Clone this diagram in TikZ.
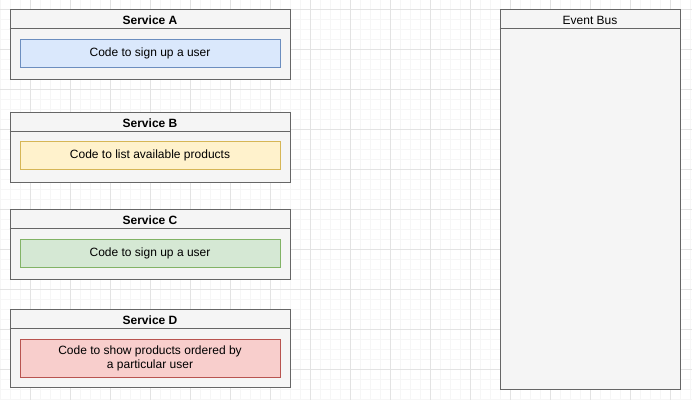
\documentclass[tikz,border=0pt]{standalone}
\usepackage{fontspec}
\setmainfont{Liberation Sans}
\usepackage{xcolor}
\usetikzlibrary{positioning}
\usetikzlibrary{calc}

\definecolor{lanegray}{HTML}{666666}
\definecolor{lanefill}{HTML}{F5F5F5}
\definecolor{gridminor}{HTML}{F6F6F6}
\definecolor{gridmajor}{HTML}{E3E3E3}
\definecolor{bluefill}{HTML}{DAE8FC}
\definecolor{bluedraw}{HTML}{6C8EBF}
\definecolor{yellowfill}{HTML}{FFF2CC}
\definecolor{yellowdraw}{HTML}{D6B656}
\definecolor{greenfill}{HTML}{D5E8D4}
\definecolor{greendraw}{HTML}{82B366}
\definecolor{redfill}{HTML}{F8CECC}
\definecolor{reddraw}{HTML}{B85450}

\tikzset{
  lane/.style={draw=lanegray, fill=lanefill, line width=0.75pt, inner sep=0pt, minimum width=210pt, minimum height=52.5pt},
  lanetitle/.style={font=\fontsize{9}{10.5}\selectfont\bfseries, inner sep=0pt},
  codebox/.style={line width=0.75pt, inner sep=0pt, minimum width=195pt, minimum height=21pt, align=center, font=\fontsize{9}{10.5}\selectfont}
}

\begin{document}
\begin{tikzpicture}[x=0.75pt,y=-0.75pt]
\useasboundingbox (0,0) rectangle (692,400);

% grid
\foreach \gx in {0,10,...,690} \draw[gridminor, line width=0.75pt] (\gx,0) -- (\gx,400);
\foreach \gy in {-1,9,...,399} \draw[gridminor, line width=0.75pt] (0,\gy) -- (692,\gy);
\foreach \gx in {30,70,...,690} \draw[gridmajor, line width=0.75pt] (\gx,0) -- (\gx,400);
\foreach \gy in {9,49,...,399} \draw[gridmajor, line width=0.75pt] (0,\gy) -- (692,\gy);

% Service A
\node[lane] (laneA) at (150,44) {};
\draw[lanegray, line width=0.75pt] ([yshift=-15pt]laneA.north west) -- ([yshift=-15pt]laneA.north east);
\node[lanetitle] (titleA) at (150,20) {Service A};
\node[codebox, draw=bluedraw, fill=bluefill] (codeA) at (150,53) {Code to sign up a user};

% Service B
\node[lane] (laneB) at (150,147) {};
\draw[lanegray, line width=0.75pt] ([yshift=-15pt]laneB.north west) -- ([yshift=-15pt]laneB.north east);
\node[lanetitle] (titleB) at (150,123) {Service B};
\node[codebox, draw=yellowdraw, fill=yellowfill] (codeB) at (150,155.5) {Code to list available products};

% Service C
\node[lane] (laneC) at (150,244) {};
\draw[lanegray, line width=0.75pt] ([yshift=-15pt]laneC.north west) -- ([yshift=-15pt]laneC.north east);
\node[lanetitle] (titleC) at (150,220) {Service C};
\node[codebox, draw=greendraw, fill=greenfill] (codeC) at (150,253) {Code to sign up a user};

% Service D
\node[lane, minimum height=58.5pt] (laneD) at (150,348) {};
\draw[lanegray, line width=0.75pt] ([yshift=-15pt]laneD.north west) -- ([yshift=-15pt]laneD.north east);
\node[lanetitle] (titleD) at (150,320) {Service D};
\node[codebox, draw=reddraw, fill=redfill, minimum height=28.5pt] (codeD) at (150,358.5) {Code to show products ordered by\\a particular user};

% Event Bus
\node[lane, minimum width=135pt, minimum height=285pt] (bus) at (590,199) {};
\draw[lanegray, line width=0.75pt] ([yshift=-15pt]bus.north west) -- ([yshift=-15pt]bus.north east);
\node[font=\fontsize{9}{10.5}\selectfont, inner sep=0pt] (busTitle) at (590,20) {Event Bus};
\end{tikzpicture}
\end{document}
